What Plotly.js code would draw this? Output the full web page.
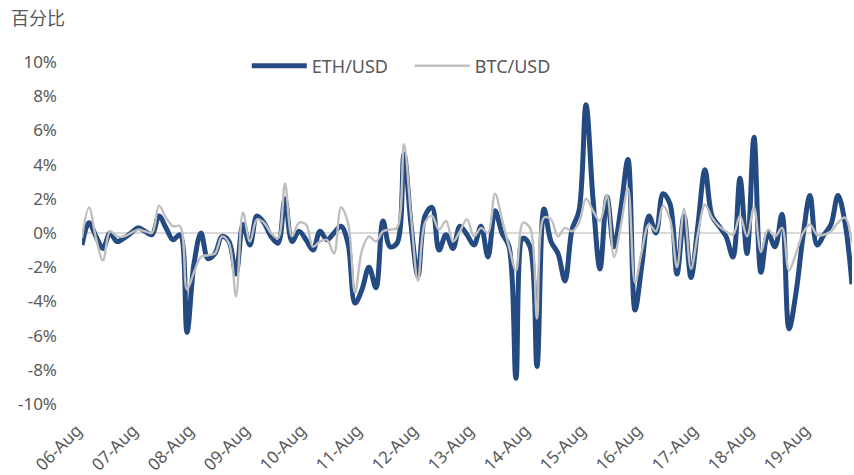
<!DOCTYPE html>
<html>
<head>
<meta charset="utf-8">
<script src="https://cdn.plot.ly/plotly-3.0.1.min.js"></script>
<style>
  html, body { margin: 0; padding: 0; background: #ffffff; }
  #chart { width: 854px; height: 475px; }
</style>
</head>
<body>
<div id="chart"></div>
<script>
// Sampling: every 3 hours from 06-Aug 00:00
const startYear = 2021, startMonth = 8, startDay = 6, stepHours = 3;

const ethUsd = [
  -0.7, 0.6, -0.2, -0.9, 0.0, -0.5, -0.3, 0.0,
  0.3, 0.1, -0.1, 1.0, 0.3, -0.4, -0.1, -5.8,
  -1.8, 0.0, -1.5, -1.2, -0.2, -0.5, -2.4, 0.5,
  -0.7, 1.0, 0.6, -0.2, -0.6, 2.0, -0.5, 0.1,
  -0.4, -1.0, 0.1, -0.4, 0.0, 0.4, -0.6, -4.1,
  -3.3, -2.0, -3.2, 0.7, -0.8, -0.6, 4.6, 0.5,
  -2.5, 1.0, 1.5, -1.0, -0.1, -0.9, 0.4, -0.1,
  -0.7, 0.4, -1.4, 1.3, 0.0, -0.8, -8.5, -0.3,
  -0.8, -7.8, 1.4, -0.5, -1.2, -2.8, 0.2, 1.3,
  7.5, 2.0, -2.1, 2.1, -0.8, 1.5, 4.3, -4.5,
  -1.8, 1.0, 0.0, 2.3, 1.7, -2.4, 1.0, -2.6,
  0.5, 3.7, 1.0, 0.4, -0.2, -1.4, 3.2, -1.2,
  5.6, -2.3, 0.0, -0.8, 1.1, -5.6, -3.5, -0.2,
  2.2, -0.7, -0.1, 0.5, 2.2, 0.6, -3.0
];

const btcUsd = [
  -0.3, 1.5, -0.3, -1.6, 0.1, -0.2, -0.2, 0.0,
  0.2, 0.1, 0.0, 1.6, 0.9, 0.4, 0.4, -3.3,
  -2.3, -1.4, -1.3, -1.2, -0.2, -0.6, -3.7, 1.2,
  -0.5, 0.8, 0.6, 0.0, -0.3, 2.9, -0.2, 0.6,
  0.5, -0.8, -0.5, -0.4, -1.2, 1.5, 0.6, -3.5,
  -1.0, -0.2, -0.5, 0.1, 0.2, 0.3, 5.2, 1.0,
  -2.8, 0.6, 1.0, 0.2, 0.7, -0.5, 0.1, 0.8,
  -0.2, 0.3, 0.0, 2.3, 0.8, -0.8, -2.2, 0.6,
  0.3, -5.0, 0.9, 0.8, -0.2, 0.3, 0.1, 0.6,
  2.0, 1.3, 0.7, 2.2, -1.4, 0.5, 2.6, -2.9,
  -1.0, 0.5, 0.1, 1.6, 0.8, -2.0, 1.4, -2.1,
  0.0, 1.65, 0.9, 0.4, 0.1, -0.1, 1.0, -0.2,
  1.5, -1.1, 0.2, -0.2, 0.3, -2.2, -1.2, 0.0,
  0.5, -0.1, -0.1, 0.1, 0.6, 0.9, -0.6
];

const yTickVals = [10, 8, 6, 4, 2, 0, -2, -4, -6, -8, -10];
const yTickText = ['10%', '8%', '6%', '4%', '2%', '0%', '-2%', '-4%', '-6%', '-8%', '-10%'];
const seriesNames = ['ETH/USD', 'BTC/USD'];
const yAxisLabel = '百分比';

function pad(n) { return (n < 10 ? '0' : '') + n; }
const times = ethUsd.map(function (_, i) {
  const h = i * stepHours;
  const d = startDay + Math.floor(h / 24);
  return startYear + '-' + pad(startMonth) + '-' + pad(d) + ' ' + pad(h % 24) + ':00';
});

const fontFam = '"Noto Sans", "Open Sans", "Noto Sans CJK SC", sans-serif';
const txtColor = '#595959';

const traces = [
  {
    x: times, y: ethUsd, name: seriesNames[0], type: 'scatter', mode: 'lines',
    line: { color: '#244A82', width: 5, shape: 'spline', smoothing: 1 },
    hoverinfo: 'skip'
  },
  {
    x: times, y: btcUsd, name: seriesNames[1], type: 'scatter', mode: 'lines',
    line: { color: '#BFBFBF', width: 2.4, shape: 'spline', smoothing: 1 },
    hoverinfo: 'skip'
  }
];

const layout = {
  width: 854, height: 475,
  paper_bgcolor: '#ffffff', plot_bgcolor: '#ffffff',
  margin: { l: 82, r: 2, t: 62, b: 71, pad: 0 },
  font: { family: fontFam, size: 18, color: txtColor },
  title: {
    text: yAxisLabel,
    font: { family: '"Noto Sans CJK SC", "Noto Sans", sans-serif', size: 18, color: txtColor },
    x: 11 / 854, xanchor: 'left', xref: 'container',
    y: 1 - 19 / 475, yanchor: 'middle', yref: 'container'
  },
  showlegend: true,
  legend: {
    orientation: 'h',
    x: 0.214, xanchor: 'left',
    y: 0.988, yanchor: 'middle',
    bgcolor: 'rgba(0,0,0,0)',
    font: { family: fontFam, size: 18, color: txtColor },
    traceorder: 'normal',
    itemwidth: 55,
    entrywidth: 93
  },
  xaxis: {
    type: 'date',
    range: [times[0], times[times.length - 1]],
    tick0: times[0],
    dtick: 86400000,
    tickformat: '%d-%b',
    tickangle: -45,
    showgrid: false, showline: false, zeroline: false,
    ticks: '',
    ticklabelstandoff: 12,
    ticklabelshift: -5,
    tickfont: { family: fontFam, size: 17, color: txtColor },
    fixedrange: true
  },
  yaxis: {
    range: [-10, 10],
    tickvals: yTickVals,
    ticktext: yTickText,
    showgrid: false, showline: false,
    zeroline: true, zerolinecolor: '#D9D9D9', zerolinewidth: 2,
    ticks: '',
    ticklabelstandoff: 24,
    tickfont: { family: fontFam, size: 17, color: txtColor },
    fixedrange: true
  }
};

Plotly.newPlot('chart', traces, layout, { staticPlot: true, displayModeBar: false });
</script>
</body>
</html>
